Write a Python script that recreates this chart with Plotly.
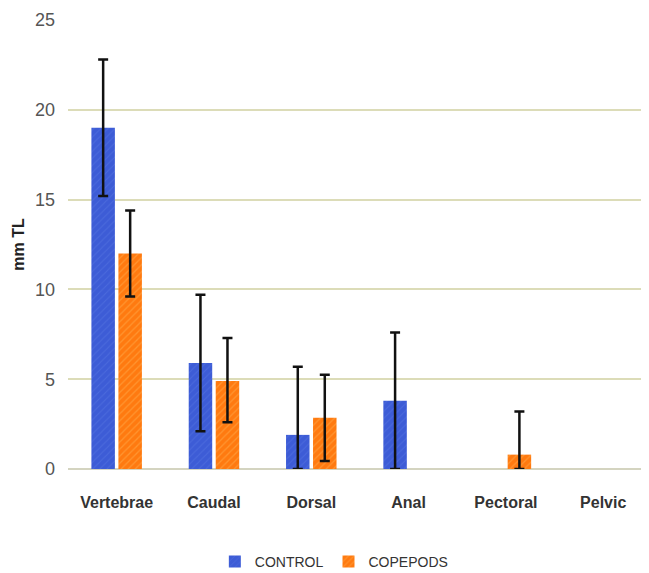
import plotly.graph_objects as go

categories = ["Vertebrae", "Caudal", "Dorsal", "Anal", "Pectoral", "Pelvic"]
control = [19.0, 5.9, 1.9, 3.8, 0, 0]
control_err_plus = [3.8, 3.8, 3.8, 3.8, 0, 0]
control_err_minus = [3.8, 3.8, 1.9, 3.8, 0, 0]
copepods = [12.0, 4.9, 2.85, 0, 0.8, 0]
copepods_err_plus = [2.4, 2.4, 2.4, 0, 2.4, 0]
copepods_err_minus = [2.4, 2.3, 2.4, 0, 0.8, 0]
y_ticks = [0, 5, 10, 15, 20, 25]


def shown(vals, ep, em):
    # zero-height bars with no error are left undrawn (no stray error caps)
    return [None if (v == 0 and p == 0 and m == 0) else v for v, p, m in zip(vals, ep, em)]


font_fam = "Liberation Sans Narrow, Liberation Sans, Arial, sans-serif"

fig = go.Figure()
fig.add_trace(go.Bar(
    name="CONTROL", x=categories, y=shown(control, control_err_plus, control_err_minus),
    marker=dict(color="#3d5cd6", line=dict(width=0),
                pattern=dict(shape="/", fgcolor="#5878e2", size=5, solidity=0.2)),
    error_y=dict(type="data", symmetric=False, array=control_err_plus,
                 arrayminus=control_err_minus, color="#111111", thickness=2.5, width=5, visible=True),
))
fig.add_trace(go.Bar(
    name="COPEPODS", x=categories, y=shown(copepods, copepods_err_plus, copepods_err_minus),
    marker=dict(color="#ff7a10", line=dict(width=0),
                pattern=dict(shape="/", fgcolor="#ffb050", size=5, solidity=0.25)),
    error_y=dict(type="data", symmetric=False, array=copepods_err_plus,
                 arrayminus=copepods_err_minus, color="#111111", thickness=2.5, width=5, visible=True),
))

fig.update_layout(
    width=641, height=565,
    margin=dict(l=60, r=2, t=12, b=104, autoexpand=False),
    paper_bgcolor="white", plot_bgcolor="white",
    barmode="group", bargap=0.445, bargroupgap=0.13,
    font=dict(family=font_fam, color="#444444"),
    showlegend=True,
    legend=dict(orientation="h", x=0.46, xanchor="center", y=-0.207, yanchor="middle",
                font=dict(size=14, color="#333333", family=font_fam),
                itemwidth=30, traceorder="normal"),
    xaxis=dict(showgrid=False, showline=False, zeroline=False, ticks="",
               range=[-0.5, 5.45], ticklabelstandoff=22,
               tickfont=dict(size=16, color="#333333", weight="bold",
                             family="Liberation Sans Narrow, Liberation Sans, sans-serif")),
    yaxis=dict(range=[0, 25], tickvals=y_ticks, showgrid=True, gridcolor="#dcdcb8", gridwidth=1.5,
               zeroline=True, zerolinecolor="#d4d4c0", zerolinewidth=1.5, showline=False, ticks="",
               ticklabelstandoff=12,
               tickfont=dict(size=18, color="#555555", family=font_fam),
               title=dict(text="<b>mm TL</b>", font=dict(size=16, color="#222222",
                                                         family="Liberation Sans, Arial, sans-serif"),
                          standoff=6)),
)

fig.write_html("out.html")
